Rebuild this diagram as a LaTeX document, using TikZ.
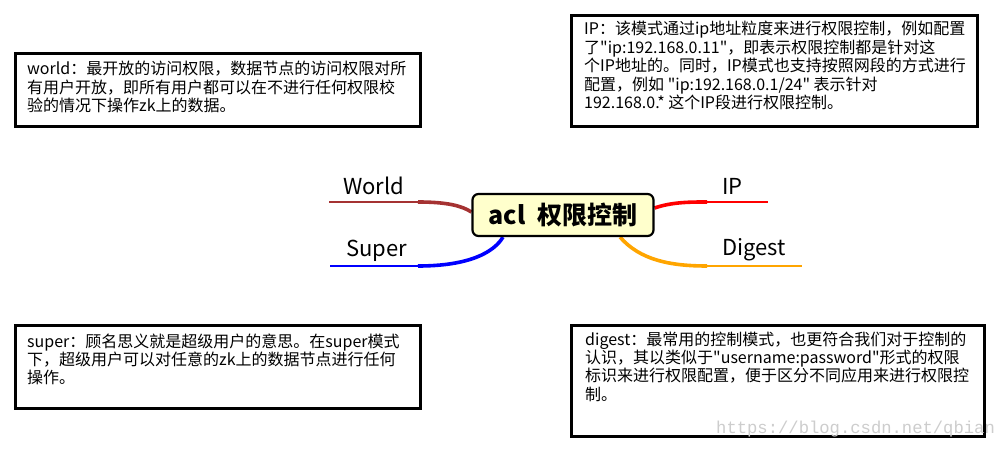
\documentclass[tikz,border=0pt]{standalone}
\usepackage{fontspec}
\setmainfont{Noto Sans CJK SC}[Ligatures=TeXOff]
\newfontfamily\markfont{Liberation Mono}
\usetikzlibrary{positioning, backgrounds}
\definecolor{aclyellow}{RGB}{255, 255, 204}
\definecolor{worldbrown}{RGB}{165, 50, 50}
\definecolor{superblue}{RGB}{0, 0, 255}
\definecolor{ipred}{RGB}{255, 0, 0}
\definecolor{digestorange}{RGB}{255, 165, 0}
\definecolor{markgray}{RGB}{205, 205, 205}

\begin{document}
\begin{tikzpicture}[x=1pt, y=-1pt,
  notebox/.style={draw=black, line width=2.8pt, fill=white, inner sep=0pt, anchor=north west},
  notetext/.style={align=left, anchor=base west, inner sep=0pt, font=\fontsize{16}{18.4}\selectfont},
  branchlabel/.style={anchor=base west, inner sep=0pt, font=\fontsize{22}{26}\selectfont},
  branch/.style={line width=2.3pt},
  branchroot/.style={line width=3.6pt}]
  \useasboundingbox (0,0) rectangle (998,449);

  % Note boxes
  \node[notebox, minimum width=405, minimum height=73] (worldbox) at (14,52) {};
  \node[notebox, minimum width=406, minimum height=111] (ipbox) at (570,14) {};
  \node[notebox, minimum width=405, minimum height=83] (superbox) at (14,324) {};
  \node[notebox, minimum width=413, minimum height=111] (digestbox) at (570,324) {};

  % texts sit on the baseline of their last line
  \node[notetext] (worldtext) at (27,111.8) {world：最开放的访问权限，数据节点的访问权限对所\\
有用户开放，即所有用户都可以在不进行任何权限校\\
验的情况下操作zk上的数据。};
  \node[notetext] (iptext) at (584,108.6) {IP：该模式通过ip地址粒度来进行权限控制，例如配置\\
了"ip:192.168.0.11"，即表示权限控制都是针对这\\
个IP地址的。同时，IP模式也支持按照网段的方式进行\\
配置，例如 "ip:192.168.0.1/24" 表示针对\\
192.168.0.* 这个IP段进行权限控制。};
  \node[notetext] (supertext) at (27,383.8) {super：顾名思义就是超级用户的意思。在super模式\\
下，超级用户可以对任意的zk上的数据节点进行任何\\
操作。};
  \node[notetext] (digesttext) at (585,400.2) {digest：最常用的控制模式，也更符合我们对于控制的\\
认识，其以类似于"username:password"形式的权限\\
标识来进行权限配置，便于区分不同应用来进行权限控\\
制。};

  % Central topic
  \node[draw=black, line width=2.2pt, rounded corners=6pt, fill=aclyellow,
        minimum width=181, minimum height=42, inner sep=0pt,
        font=\fontsize{25}{30}\selectfont\bfseries] (acl) at (563,215) {acl\hspace{6pt} 权限控制};

  % Branches
  \node[branchlabel] (world) at (343,194) {World};
  \node[branchlabel] (super) at (346,256) {Super};
  \node[branchlabel] (ip) at (722,194) {IP};
  \node[branchlabel] (digest) at (722,255) {Digest};

  \coordinate (worldend) at (329,202);
  \coordinate (worldknee) at (418,202);
  \coordinate (superend) at (330,266);
  \coordinate (superknee) at (418,266);
  \coordinate (ipknee) at (707,202);
  \coordinate (ipend) at (768,202);
  \coordinate (digestknee) at (707,266);
  \coordinate (digestend) at (802,266);

  \begin{scope}[on background layer]
    \draw[branch, worldbrown] (worldend) -- (worldknee);
    \draw[branchroot, worldbrown] (worldknee) .. controls (448,202) and (462,206) .. ([yshift=3pt]acl.west);
    \draw[branch, superblue] (superend) -- (superknee);
    \draw[branchroot, superblue] (superknee) .. controls (470,266) and (494,252) .. ([xshift=-60pt]acl.south);
    \draw[branchroot, ipred] ([yshift=7pt]acl.east) .. controls (672,202) and (690,202) .. (ipknee);
    \draw[branch, ipred] (ipknee) -- (ipend);
    \draw[branchroot, digestorange] ([xshift=57pt]acl.south) .. controls (640,260) and (670,266) .. (digestknee);
    \draw[branch, digestorange] (digestknee) -- (digestend);
  \end{scope}

  % Watermark
  \node[anchor=base west, inner sep=0pt, text=markgray, font=\markfont\fontsize{17.2}{20}\selectfont] (mark) at (716,433) {https://blog.csdn.net/qbian};
\end{tikzpicture}
\end{document}
